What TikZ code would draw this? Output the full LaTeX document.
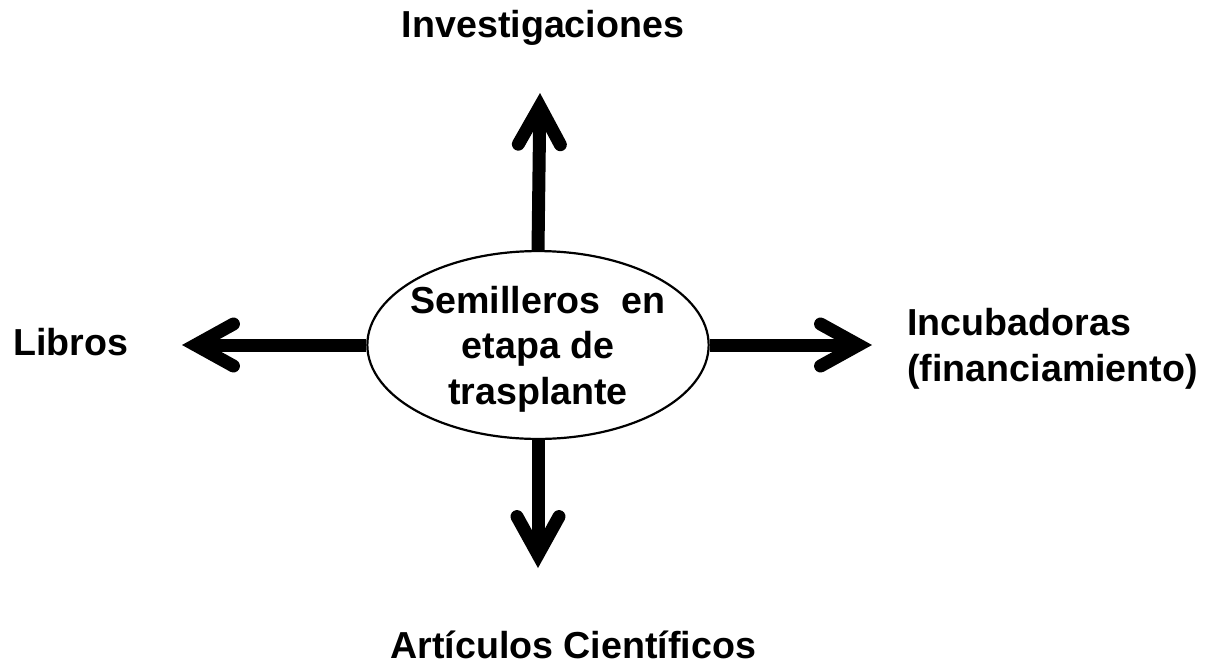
\documentclass[tikz,border=0pt]{standalone}
\usepackage{fontspec}
\setmainfont{Liberation Sans}
\usetikzlibrary{arrows.meta, shapes.geometric}
\tikzset{
    texto/.style={font=\fontsize{18.8}{22.8}\selectfont\bfseries, inner sep=0pt}, % estilo de las etiquetas
    flecha/.style={line width=6.5pt, -{Straight Barb[length=19pt, width=21pt, line cap=round, line join=miter]}} % flechas gruesas
}

\begin{document}
\begin{tikzpicture}[x=0.5pt, y=-0.5pt]
            \useasboundingbox (0,0) rectangle (1222,670);

            \node[draw, ellipse, line width=1.1pt, texto, inner xsep=-3.4pt, inner ysep=3.6pt, align=center, text depth=0pt] (semilleros) at (538,345) {Semilleros~ en\\etapa de\\trasplante};

            \coordinate (puntaArriba) at (540,93);
            \coordinate (puntaAbajo) at (538,568);
            \coordinate (puntaIzq) at (182,345);
            \coordinate (puntaDer) at (872,345);
            \foreach \p/\q in {north/puntaArriba, south/puntaAbajo, west/puntaIzq, east/puntaDer} {\draw[flecha] (semilleros.\p) -- (\q);}

            \node[texto] (investigaciones) at (543,28) {Investigaciones};
            \node[texto, anchor=base west] (libros) at (13,355) {Libros};
            \node[texto, anchor=west, align=left] (incubadoras) at (907,349) {Incubadoras\\(financiamiento)};
            \node[texto, anchor=base west] (articulos) at (390,658) {Artículos Científicos};
        \end{tikzpicture}
\end{document}
